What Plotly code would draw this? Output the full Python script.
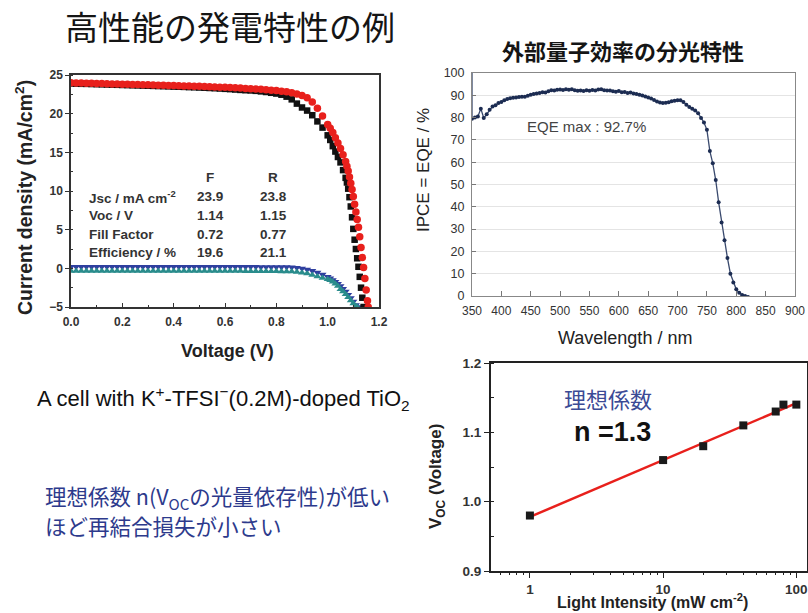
import plotly.graph_objects as go

# ---------------- data: J-V curves (chart 1) ----------------
V_COMMON = [0.00, 0.02, 0.04, 0.06, 0.08, 0.10, 0.12, 0.14, 0.16, 0.18, 0.20, 0.22, 0.24, 0.26,
            0.28, 0.30, 0.32, 0.34, 0.36, 0.38, 0.40, 0.42, 0.44, 0.46, 0.48, 0.50, 0.52, 0.54,
            0.56, 0.58, 0.60, 0.62, 0.64, 0.66, 0.68, 0.70, 0.72, 0.74, 0.76, 0.78, 0.80, 0.82, 0.84]

F_V_TAIL = [0.86, 0.88, 0.90, 0.92, 0.94, 0.96, 0.98, 1.00, 1.01, 1.02, 1.03, 1.04, 1.05, 1.06,
            1.07, 1.075, 1.08, 1.085, 1.09, 1.095, 1.10, 1.105, 1.11, 1.115, 1.12, 1.125, 1.13,
            1.135, 1.14]
F_J = [23.90, 23.88, 23.86, 23.85, 23.83, 23.81, 23.79, 23.77, 23.75, 23.73, 23.71, 23.69, 23.67,
       23.65, 23.63, 23.61, 23.59, 23.57, 23.55, 23.53, 23.50, 23.48, 23.46, 23.43, 23.41, 23.38,
       23.35, 23.32, 23.29, 23.25, 23.21, 23.17, 23.12, 23.07, 23.03, 23.00, 22.95, 22.88, 22.80,
       22.70, 22.60, 22.45, 22.20,
       21.85, 21.30, 20.80, 20.40, 19.80, 19.00, 18.20, 17.20, 16.60, 15.80, 15.10, 14.40, 13.70,
       12.70, 11.70, 11.10, 10.30, 9.20, 8.00, 6.60, 5.10, 3.70, 2.50, 1.30, 0.20, -1.10, -2.50,
       -3.80, -5.00]

R_V_TAIL = [0.86, 0.88, 0.90, 0.92, 0.94, 0.96, 0.98, 1.00, 1.01, 1.02, 1.03, 1.04, 1.05, 1.06,
            1.07, 1.075, 1.08, 1.085, 1.09, 1.095, 1.10, 1.105, 1.11, 1.115, 1.12, 1.125, 1.13,
            1.135, 1.14, 1.145, 1.15, 1.155, 1.158]
R_J = [24.00, 23.98, 23.96, 23.94, 23.93, 23.91, 23.89, 23.87, 23.85, 23.84, 23.82, 23.80, 23.78,
       23.76, 23.75, 23.73, 23.71, 23.69, 23.67, 23.65, 23.63, 23.61, 23.59, 23.57, 23.55, 23.53,
       23.50, 23.48, 23.45, 23.43, 23.40, 23.37, 23.34, 23.31, 23.27, 23.23, 23.19, 23.15, 23.10,
       23.04, 22.98, 22.91, 22.82,
       22.70, 22.55, 22.35, 22.05, 21.50, 20.70, 19.70, 18.60, 18.10, 17.55, 16.90, 16.20, 15.50,
       14.70, 13.80, 13.20, 12.60, 11.80, 11.00, 10.20, 9.30, 8.30, 7.30, 6.30, 5.30, 4.10, 2.70,
       1.40, 0.10, -1.30, -2.80, -4.20, -5.00]

DARK_V_TAIL = [0.86, 0.88, 0.90, 0.92, 0.94, 0.96, 0.98, 1.00, 1.01, 1.02, 1.03, 1.04, 1.05,
               1.06, 1.07, 1.08, 1.09, 1.10, 1.11, 1.12]
BLUE_J = [0.20, 0.21, 0.20, 0.20, 0.21, 0.20, 0.20, 0.21, 0.20, 0.20, 0.21, 0.20, 0.20, 0.21,
          0.20, 0.20, 0.21, 0.20, 0.20, 0.21, 0.20, 0.20, 0.21, 0.20, 0.20, 0.21, 0.20, 0.20,
          0.21, 0.20, 0.20, 0.20, 0.20, 0.20, 0.19, 0.19, 0.19, 0.18, 0.18, 0.17, 0.17, 0.16, 0.16,
          0.15, 0.08, -0.02, -0.15, -0.32, -0.55, -0.80, -1.10, -1.28, -1.50, -1.75, -2.00,
          -2.30, -2.65, -3.00, -3.40, -3.85, -4.30, -4.75, -5.00]
TEAL_V_TAIL = [0.86, 0.88, 0.90, 0.92, 0.94, 0.96, 0.98, 1.00, 1.01, 1.02, 1.03, 1.04, 1.05,
               1.06, 1.07, 1.08, 1.09, 1.10, 1.11, 1.115]
TEAL_J = [-0.35, -0.34, -0.35, -0.35, -0.34, -0.35, -0.35, -0.34, -0.35, -0.35, -0.34, -0.35,
          -0.35, -0.34, -0.35, -0.35, -0.34, -0.35, -0.35, -0.34, -0.35, -0.35, -0.34, -0.35,
          -0.35, -0.34, -0.35, -0.35, -0.35, -0.35, -0.35, -0.36, -0.36, -0.36, -0.37, -0.37,
          -0.37, -0.38, -0.38, -0.39, -0.39, -0.40, -0.41,
          -0.42, -0.48, -0.56, -0.68, -0.85, -1.05, -1.25, -1.40, -1.55, -1.75, -2.00, -2.30,
          -2.70, -3.00, -3.35, -3.75, -4.15, -4.55, -4.90, -5.00]

TABLE_HEAD = ["F", "R"]
TABLE_ROWS = ["Jsc / mA cm<sup>-2</sup>", "Voc / V", "Fill Factor", "Efficiency / %"]
TABLE_F = ["23.9", "1.14", "0.72", "19.6"]
TABLE_R = ["23.8", "1.15", "0.77", "21.1"]

# ---------------- data: EQE spectrum (chart 2) ----------------
WL = [350, 355, 360, 365, 370, 375, 380, 385, 390, 395, 400, 405, 410, 415, 420, 425, 430, 435,
      440, 445, 450, 455, 460, 465, 470, 475, 480, 485, 490, 495, 500, 505, 510, 515, 520, 525,
      530, 535, 540, 545, 550, 555, 560, 565, 570, 575, 580, 585, 590, 595, 600, 605, 610, 615,
      620, 625, 630, 635, 640, 645, 650, 655, 660, 665, 670, 675, 680, 685, 690, 695, 700, 705,
      710, 715, 720, 725, 730, 735, 740, 745, 750, 755, 760, 765, 770, 775, 780, 785, 790, 795,
      800, 805, 810, 815, 820]
EQE = [79.5, 80.0, 80.5, 84.0, 79.8, 81.5, 83.5, 85.0, 85.5, 86.5, 87.0, 87.8, 88.3, 88.7, 88.9,
       89.0, 89.2, 89.4, 89.3, 89.8, 90.2, 90.6, 90.8, 91.0, 91.4, 91.2, 91.8, 92.3, 92.1, 92.5,
       92.6, 92.4, 92.7, 92.5, 92.7, 92.3, 92.0, 92.2, 91.9, 92.3, 92.0, 92.4, 92.1, 92.6, 92.7,
       92.3, 92.1, 92.2, 91.8, 91.6, 91.9, 91.4, 91.5, 91.0, 91.2, 90.8, 90.6, 90.3, 89.9, 89.5,
       89.0, 88.6, 87.9, 87.2, 86.8, 86.6, 86.7, 86.9, 87.3, 87.5, 87.8, 87.8, 87.0, 85.8, 84.8,
       84.0, 83.2, 82.0, 79.8, 77.8, 74.5, 65.0, 59.5, 52.0, 42.0, 33.0, 25.0, 17.0, 10.0, 6.0,
       3.0, 1.5, 0.5, 0.0, -0.5]
EQE_START_WL = [350]
EQE_START = [100]
EQE_NOTE = "EQE max : 92.7%"

# ---------------- data: Voc vs light intensity (chart 3) ----------------
INTENSITY = [1, 10, 20, 40, 70, 80, 100]
VOC = [0.98, 1.06, 1.08, 1.11, 1.13, 1.14, 1.14]
FIT_X = [1, 100]
FIT_Y = [0.978, 1.142]
MINOR_LOG = [0.6, 0.7, 0.8, 0.9, 2, 3, 4, 5, 6, 7, 8, 9, 20, 30, 40, 50, 60, 70, 80, 90]

W, H = 808, 613
def px(x): return x / W
def py(y): return 1 - y / H

SANS = "Liberation Sans, Arial, sans-serif"
CJK = "Noto Sans CJK JP, sans-serif"

fig = go.Figure()

# chart 1 traces
fig.add_trace(go.Scatter(x=V_COMMON + DARK_V_TAIL, y=BLUE_J, mode="markers",
                         marker=dict(symbol="triangle-down", size=7, color="#2f3f9f"),
                         xaxis="x", yaxis="y", showlegend=False, hoverinfo="skip"))
fig.add_trace(go.Scatter(x=V_COMMON + TEAL_V_TAIL, y=TEAL_J, mode="markers",
                         marker=dict(symbol="triangle-up", size=7, color="#2a8c8c"),
                         xaxis="x", yaxis="y", showlegend=False, hoverinfo="skip"))
fig.add_trace(go.Scatter(x=V_COMMON + F_V_TAIL, y=F_J, mode="markers",
                         marker=dict(symbol="square", size=6.5, color="#111111"),
                         xaxis="x", yaxis="y", showlegend=False, hoverinfo="skip"))
fig.add_trace(go.Scatter(x=V_COMMON + R_V_TAIL, y=R_J, mode="markers",
                         marker=dict(symbol="circle", size=7.5, color="#e8201c"),
                         xaxis="x", yaxis="y", showlegend=False, hoverinfo="skip"))

# chart 2 traces
fig.add_trace(go.Scatter(x=EQE_START_WL + WL, y=EQE_START + EQE, mode="lines",
                         line=dict(color="#3a4a6e", width=1.3),
                         xaxis="x2", yaxis="y2", showlegend=False, hoverinfo="skip"))
fig.add_trace(go.Scatter(x=WL, y=EQE, mode="markers",
                         marker=dict(size=4, color="#1c2c52"),
                         xaxis="x2", yaxis="y2", showlegend=False, hoverinfo="skip"))

# chart 3 traces
fig.add_trace(go.Scatter(x=FIT_X, y=FIT_Y, mode="lines", line=dict(color="#e8201c", width=2.5),
                         xaxis="x3", yaxis="y3", showlegend=False, hoverinfo="skip"))
fig.add_trace(go.Scatter(x=INTENSITY, y=VOC, mode="markers",
                         marker=dict(symbol="square", size=8, color="#1a1a1a"),
                         xaxis="x3", yaxis="y3", showlegend=False, hoverinfo="skip"))
fig.add_trace(go.Scatter(x=INTENSITY, y=VOC, mode="markers", marker=dict(opacity=0),
                         xaxis="x4", yaxis="y3", showlegend=False, hoverinfo="skip"))

tick_b1 = dict(family=SANS, size=12, color="#333333", weight="bold")
tick_b3 = dict(family=SANS, size=13.5, color="#333333", weight="bold")

fig.update_layout(
    width=W, height=H, margin=dict(l=0, r=0, t=0, b=0),
    paper_bgcolor="white", plot_bgcolor="white",
    xaxis=dict(domain=[px(71), px(379)], range=[0, 1.2], anchor="y", automargin=False,
               tickvals=[0, 0.2, 0.4, 0.6, 0.8, 1.0, 1.2],
               ticktext=["0.0", "0.2", "0.4", "0.6", "0.8", "1.0", "1.2"],
               ticks="inside", ticklen=4, tickcolor="#333", tickfont=tick_b1,
               minor=dict(ticks="inside", ticklen=2, dtick=0.1, tickcolor="#333"),
               showline=True, linecolor="#333", linewidth=1.5, mirror=True,
               showgrid=False, zeroline=False, ticklabelstandoff=3),
    yaxis=dict(domain=[py(307), py(75)], range=[-5, 25], anchor="x", automargin=False,
               tickvals=[-5, 0, 5, 10, 15, 20, 25],
               ticks="outside", ticklen=4, tickcolor="#333", tickfont=tick_b1,
               minor=dict(ticks="inside", ticklen=2, dtick=2.5, tickcolor="#333"),
               showline=True, linecolor="#333", linewidth=1.5, mirror=True,
               showgrid=False, zeroline=False),
    xaxis2=dict(domain=[px(472), px(795)], range=[350, 900], anchor="y2", dtick=50,
                automargin=False,
                ticks="inside", ticklen=5, tickcolor="#777",
                tickfont=dict(family=SANS, size=12, color="#333"),
                showline=True, linecolor="#888", linewidth=1, mirror=True,
                showgrid=False, zeroline=False, ticklabelstandoff=4),
    yaxis2=dict(domain=[py(296), py(73)], range=[0, 100], anchor="x2", dtick=10,
                automargin=False,
                ticks="inside", ticklen=4, tickcolor="#777",
                tickfont=dict(family=SANS, size=12.5, color="#333"),
                showline=True, linecolor="#888", linewidth=1, mirror=True,
                showgrid=True, gridcolor="#e4e4e4", zeroline=False, ticklabelstandoff=4),
    xaxis3=dict(domain=[px(491), px(807)], type="log", range=[-0.292, 2.08], anchor="y3",
                automargin=False,
                tickvals=[1, 10, 100], ticktext=["1", "10", "100"],
                ticks="outside", ticklen=5, tickcolor="#222", tickfont=tick_b3,
                showline=True, linecolor="#222", linewidth=2, mirror=True,
                showgrid=False, zeroline=False, ticklabelstandoff=0),
    xaxis4=dict(type="log", range=[-0.292, 2.08], overlaying="x3", anchor="y3", side="bottom",
                automargin=False,
                tickvals=MINOR_LOG, ticks="outside", ticklen=3, tickcolor="#222",
                showticklabels=False, showline=False, showgrid=False, zeroline=False),
    yaxis3=dict(domain=[py(571), py(363)], range=[0.9, 1.2], anchor="x3", automargin=False,
                tickvals=[0.9, 1.0, 1.1, 1.2], ticktext=["0.9", "1.0", "1.1", "1.2"],
                ticks="outside", ticklen=5, tickcolor="#222", tickfont=tick_b3,
                minor=dict(ticks="inside", ticklen=3, dtick=0.05, tickcolor="#222"),
                showline=True, linecolor="#222", linewidth=2, mirror=True,
                showgrid=False, zeroline=False),
)

ann = []
def add(text, x, y, size, family=SANS, color="#111", weight="normal", xanchor="center",
        angle=0):
    ann.append(dict(text=text, x=px(x), y=py(y), xref="paper", yref="paper",
                    xanchor=xanchor, yanchor="middle", showarrow=False, textangle=angle,
                    font=dict(family=family, size=size, color=color, weight=weight)))

# titles
add("高性能の発電特性の例", 230, 26, 33, family=CJK, color="#151515")
add("外部量子効率の分光特性", 623, 50, 22, family=CJK, color="#151515", weight="bold")

# chart 1 labels
add("Current density (mA/cm<sup>2</sup>)", 24, 198, 19.5, weight="bold", color="#222", angle=-90)
add("Voltage (V)", 228, 351, 18, weight="bold", color="#222")
add(TABLE_HEAD[0], 210, 178, 13.5, weight="bold", color="#333")
add(TABLE_HEAD[1], 273, 178, 13.5, weight="bold", color="#333")
for i, (lab, f, r) in enumerate(zip(TABLE_ROWS, TABLE_F, TABLE_R)):
    yy = [197, 216, 234, 252][i]
    add(lab, 87, yy, 13.5, weight="bold", color="#333", xanchor="left")
    add(f, 210, yy, 13.5, weight="bold", color="#333")
    add(r, 273, yy, 13.5, weight="bold", color="#333")

# chart 2 labels
add("IPCE = EQE / %", 423, 170, 17, color="#222", angle=-90)
add("Wavelength / nm", 625, 338, 18, color="#222")
add(EQE_NOTE, 586, 127, 15, color="#444")

# chart 3 labels
add("V<sub>OC</sub> (Voltage)", 437, 477, 17, weight="bold", color="#222", angle=-90)
add("Light Intensity (mW cm<sup>-2</sup>)", 652, 601, 16, weight="bold", color="#222")
add("理想係数", 608, 398, 22, family=CJK, color="#3b4a95")
add("n =1.3", 612, 432, 27, weight="bold", color="#111")

# free text
add("A cell with K<sup>+</sup>-TFSI<sup>−</sup>(0.2M)-doped TiO<sub>2</sub>", 35, 398, 22,
    color="#111", xanchor="left")
add("理想係数 n(V<sub>OC</sub>の光量依存性)が低い", 43, 497, 21.5, family=CJK, color="#2d3a8c",
    xanchor="left")
add("ほど再結合損失が小さい", 43, 525, 21.5, family=CJK, color="#2d3a8c", xanchor="left")

fig.update_layout(annotations=ann)
fig.write_html("out.html", config={"displayModeBar": False},
               post_script="document.body.style.margin='0';")
